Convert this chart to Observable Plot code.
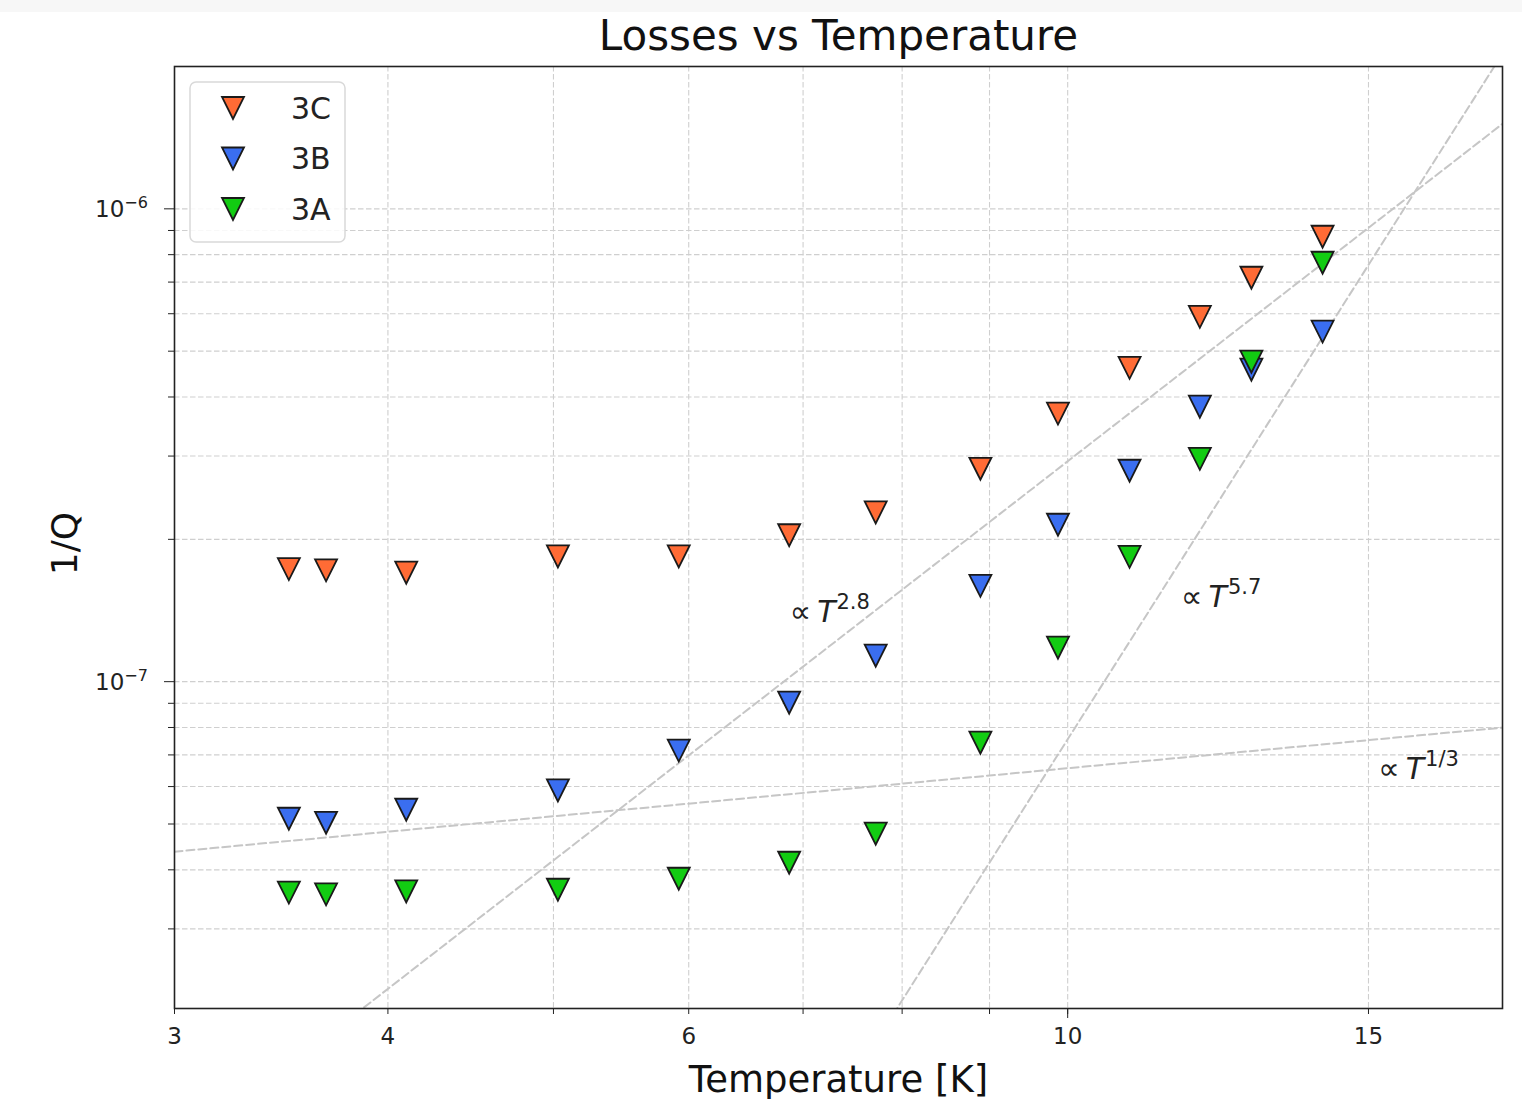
<!DOCTYPE html>
<html>
<head>
<meta charset="utf-8">
<script src="https://cdn.jsdelivr.net/npm/d3@7"></script>
<script src="https://cdn.jsdelivr.net/npm/@observablehq/plot@0.6"></script>
<style>
  body { margin: 0; background: #fff; }
  #chart { position: relative; width: 1522px; height: 1099px; }
  #strip { position: absolute; left: 0; top: 0; width: 1522px; height: 12px; background: #f7f7f7; }
</style>
</head>
<body>
<div id="chart"></div>
<div id="strip"></div>
<script>
// ---------------- data ----------------
const temps  = [3.50, 3.68, 4.10, 5.03, 5.92, 6.87, 7.72, 8.89, 9.87, 10.87, 11.95, 12.81, 14.10];
const loss3C = [1.73e-7, 1.72e-7, 1.70e-7, 1.84e-7, 1.84e-7, 2.04e-7, 2.28e-7, 2.82e-7, 3.69e-7, 4.61e-7, 5.91e-7, 7.15e-7, 8.73e-7];
const loss3B = [5.13e-8, 5.03e-8, 5.36e-8, 5.89e-8, 7.15e-8, 9.03e-8, 1.135e-7, 1.595e-7, 2.147e-7, 2.793e-7, 3.815e-7, 4.57e-7, 5.50e-7];
const loss3A = [3.58e-8, 3.55e-8, 3.60e-8, 3.63e-8, 3.83e-8, 4.14e-8, 4.77e-8, 7.43e-8, 1.18e-7, 1.837e-7, 2.96e-7, 4.75e-7, 7.69e-7];
const seriesNames  = ["3C", "3B", "3A"];
const seriesColors = ["#ff6b35", "#3a6ef0", "#12cc12"];

// fitted power laws (end points)
const fitNames = ["T2.8", "T5.7", "T1/3"];
const fitT = [[3, 18], [7, 18], [3, 18]];
const fitV = [[1.0e-8, 1.52e-6], [9.9e-9, 2.15e-6], [4.37e-8, 8.0e-8]];

// annotations
const annT   = [6.88, 11.66, 15.21];
const annV   = [1.333e-7, 1.433e-7, 6.2e-8];
const annExp = ["2.8", "5.7", "1/3"];

// ticks
const xTicks      = [3, 4, 5, 6, 7, 8, 9, 10, 15];
const xTickLabels = ["3", "4", "", "6", "", "", "", "10", "15"];
const xMajorTicks = [10];
const xGrid       = [4, 5, 6, 7, 8, 9, 10, 15];
const yMinorTicks = [3e-8, 4e-8, 5e-8, 6e-8, 7e-8, 8e-8, 9e-8, 2e-7, 3e-7, 4e-7, 5e-7, 6e-7, 7e-7, 8e-7, 9e-7];
const yMajorTicks = [1e-7, 1e-6];
const yMajorExp   = ["\u22127", "\u22126"];
const yGrid       = yMinorTicks.concat(yMajorTicks);

const titleText = "Losses vs Temperature";
const xLabel = "Temperature [K]";
const yLabel = "1/Q";

// ---------------- tables ----------------
const seriesVals = [loss3C, loss3B, loss3A];
const rows = [];
seriesNames.forEach((s, i) => temps.forEach((t, j) => rows.push({T: t, Q: seriesVals[i][j], series: s})));
const fitRows = [];
fitNames.forEach((f, i) => fitT[i].forEach((t, j) => fitRows.push({T: t, V: fitV[i][j], fit: f})));

// matplotlib-like downward triangle (width == height)
const triDown = {
  draw(ctx, size) {
    const h = Math.sqrt(size / Math.PI);
    ctx.moveTo(-h, -h);
    ctx.lineTo(h, -h);
    ctx.lineTo(0, h);
    ctx.closePath();
  }
};
const markerR = 11;
const FONT = "DejaVu Sans, sans-serif";

function getScale(scales, k) {
  if (scales && typeof scales[k] === "function") return scales[k];
  if (scales && scales.scales && typeof scales.scales[k] === "function") return scales.scales[k];
  return null;
}

// y tick labels with superscripts
function yTickLabelMark(index, scales, values, dims) {
  const sy = getScale(scales, "y");
  const g = d3.create("svg:g").attr("font-family", FONT).attr("fill", "#222").attr("text-anchor", "start");
  yMajorTicks.forEach((v, i) => {
    const y = sy(v);
    const t = g.append("text")
      .attr("x", dims.marginLeft - 79)
      .attr("y", y + 9)
      .attr("font-size", 23);
    t.append("tspan").text("10");
    t.append("tspan").attr("dy", -9).attr("font-size", 16).text(yMajorExp[i]);
  });
  return g.node();
}

// power-law annotations
function annotationMark(index, scales, values, dims) {
  const sx = getScale(scales, "x"), sy = getScale(scales, "y");
  const g = d3.create("svg:g").attr("font-family", FONT).attr("fill", "#222").attr("text-anchor", "start");
  annT.forEach((t, i) => {
    const txt = g.append("text")
      .attr("x", sx(t))
      .attr("y", sy(annV[i]))
      .attr("font-size", 30);
    txt.append("tspan").text("\u221D");
    txt.append("tspan").attr("dx", 6).attr("font-style", "italic").text("T");
    txt.append("tspan").attr("dx", 1).attr("dy", -13).attr("font-size", 21).text(annExp[i]);
  });
  return g.node();
}

// legend
function legendMark(index, scales, values, dims) {
  const g = d3.create("svg:g").attr("font-family", FONT).attr("text-anchor", "start");
  const x0 = dims.marginLeft + 16, y0 = dims.marginTop + 16;
  g.append("rect")
    .attr("x", x0).attr("y", y0).attr("width", 155).attr("height", 160)
    .attr("rx", 6).attr("fill", "white").attr("fill-opacity", 0.85)
    .attr("stroke", "#d9d9d9").attr("stroke-width", 1.5);
  const sym = d3.symbol(triDown, Math.PI * markerR * markerR);
  seriesNames.forEach((s, i) => {
    const cy = y0 + 26 + i * 50.5;
    g.append("path")
      .attr("d", sym())
      .attr("transform", `translate(${x0 + 43},${cy})`)
      .attr("fill", seriesColors[i])
      .attr("stroke", "#1a1a1a").attr("stroke-width", 1.8);
    g.append("text")
      .attr("x", x0 + 101).attr("y", cy).attr("dy", "0.36em")
      .attr("font-size", 30).attr("fill", "#222")
      .text(s);
  });
  return g.node();
}

const gridStyle = {stroke: "#cfcfcf", strokeWidth: 1.1, strokeDasharray: "5.5,2.5"};

const plot = Plot.plot({
  width: 1522,
  height: 1099,
  marginLeft: 174,
  marginRight: 20,
  marginTop: 66,
  marginBottom: 91,
  style: {fontFamily: FONT, fontSize: "22px", color: "#222", background: "white", overflow: "visible"},
  x: {type: "log", domain: [3, 17.97]},
  y: {type: "log", domain: [2.036e-8, 2.0e-6]},
  color: {domain: seriesNames, range: seriesColors},
  marks: [
    Plot.ruleX(xGrid, gridStyle),
    Plot.ruleY(yGrid, gridStyle),
    Plot.line(fitRows, {x: "T", y: "V", z: "fit", stroke: "#c6c6c6", strokeWidth: 2, strokeDasharray: "8,4", clip: true}),
    annotationMark,
    Plot.dot(rows, {x: "T", y: "Q", fill: "series", symbol: triDown, r: markerR, stroke: "#1a1a1a", strokeWidth: 1.8}),
    Plot.frame({stroke: "#222", strokeWidth: 1.6}),
    Plot.axisX({ticks: xTicks, tickSize: 6, tickPadding: 13, fontSize: 23, label: null,
      tickFormat: d => xTickLabels[xTicks.indexOf(d)]}),
    Plot.axisX({ticks: xMajorTicks, tickSize: 10, tickFormat: () => "", label: null}),
    Plot.axisY({ticks: yMinorTicks, tickSize: 6, tickFormat: () => "", label: null}),
    Plot.axisY({ticks: yMajorTicks, tickSize: 10, tickFormat: () => "", label: null}),
    yTickLabelMark,
    Plot.text([titleText], {text: d => d, frameAnchor: "top", lineAnchor: "middle", textAnchor: "middle", dy: -30, fontSize: 42, fill: "#111"}),
    Plot.text([xLabel], {text: d => d, frameAnchor: "bottom", lineAnchor: "middle", textAnchor: "middle", dy: 72, fontSize: 37, fill: "#111"}),
    Plot.text([yLabel], {text: d => d, frameAnchor: "left", lineAnchor: "middle", textAnchor: "middle", dx: -109, dy: 6, rotate: -90, fontSize: 36, fill: "#111"}),
    legendMark
  ]
});

document.getElementById("chart").appendChild(plot);
</script>
</body>
</html>
